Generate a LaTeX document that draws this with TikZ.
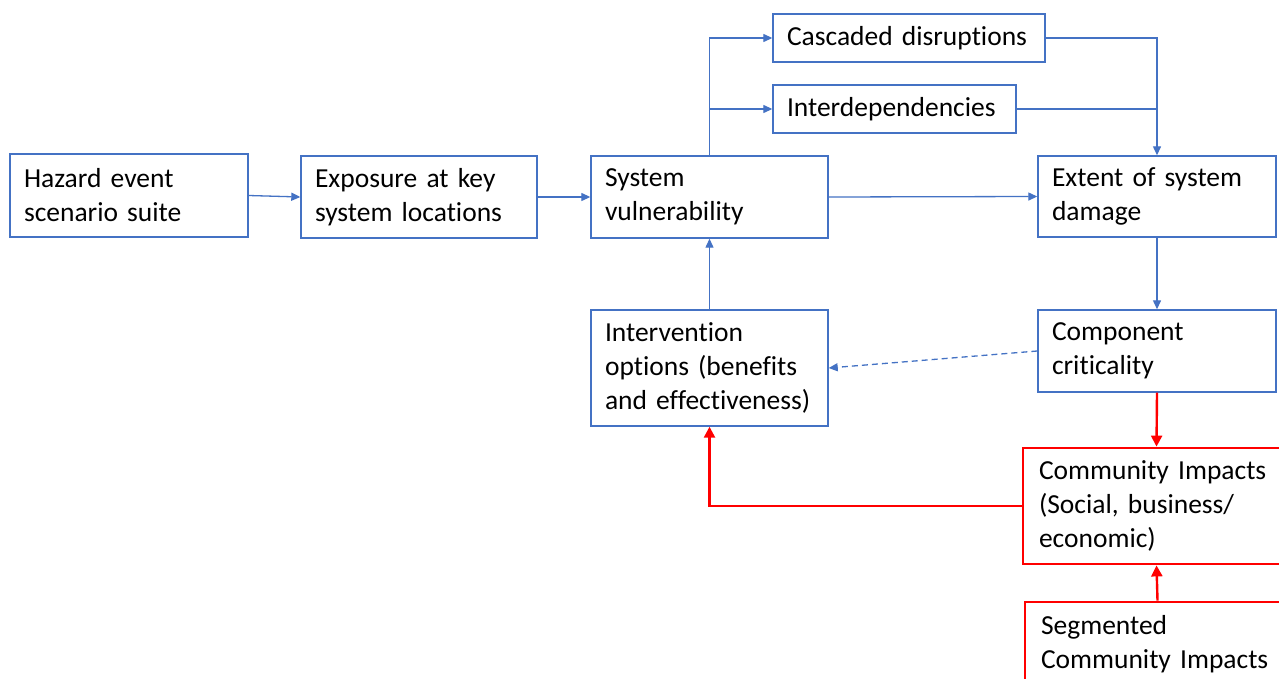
\documentclass[tikz,border=0pt]{standalone}
\usepackage{fontspec}
\setmainfont{Carlito}[Ligatures=NoCommon, WordSpace={0.8,0,0}]
\usetikzlibrary{arrows.meta}
\hyphenpenalty=10000
\definecolor{bl}{HTML}{4472C4}
\definecolor{rd}{HTML}{FF0000}
\tikzset{
  box/.style={draw=bl, line width=1.4pt, inner xsep=14pt, inner ysep=0pt, align=left,
    font=\fontsize{27.5}{34}\selectfont, text=black},
  rbox/.style={box, draw=rd, line width=2.8pt},
  arr/.style={draw=bl, line width=1.3pt, -{Triangle[length=9pt,width=8pt]}},
  ln/.style={draw=bl, line width=1.3pt},
  rarr/.style={draw=rd, line width=2.4pt, -{Triangle[length=11pt,width=11pt]}},
}
\begin{document}
\begin{tikzpicture}[x=1pt,y=-1pt]
\clip (0,0) rectangle (1279,679);
\fill[white] (0,0) rectangle (1279,679);
\node[box, minimum width=238pt, minimum height=83pt, text width=210pt] (haz) at (129,195.5) {\mbox{Hazard event}\\\mbox{scenario suite}};
\node[box, minimum width=236pt, minimum height=82pt, text width=208pt] (exp) at (419,197) {\mbox{Exposure at key}\\\mbox{system locations}};
\node[box, minimum width=237pt, minimum height=82pt, text width=209pt] (sys) at (709.5,197) {System\\vulnerability};
\node[box, minimum width=238pt, minimum height=81pt, text width=210pt] (ext) at (1157,196.5) {\mbox{Extent of system}\\damage};
\node[box, minimum width=272pt, minimum height=48pt, text width=244pt] (cas) at (909,38) {\mbox{Cascaded disruptions}};
\node[box, minimum width=243pt, minimum height=48pt, text width=215pt] (int) at (894.5,109) {\mbox{Interdependencies}};
\node[box, minimum width=237pt, minimum height=116pt, text width=209pt, inner xsep=14pt] (intv) at (709.5,368) {Intervention\\\mbox{options (benefits}\\\mbox{and effectiveness)}};
\node[box, minimum width=238pt, minimum height=82pt, text width=210pt] (comp) at (1157,351) {Component\\criticality};
\node[rbox, minimum width=267pt, minimum height=116pt, text width=235pt, inner xsep=16pt] (comm) at (1156.5,506) {\mbox{Community Impacts}\\\mbox{(Social, business/}\\economic)};
\node[rbox, minimum width=265pt, minimum height=84pt, text width=233pt, inner xsep=16pt] (seg) at (1157.5,644) {Segmented\\\mbox{Community Impacts}};
% connectors
\draw[arr] (haz.east) -- (exp.west);
\draw[arr] (exp.east) -- (sys.west);
\draw[arr] (sys.east) -- (ext.west);
\draw[arr] (sys.north) |- (cas.west);
\draw[arr] (sys.north |- int.west) -- (int.west);
\draw[arr] (cas.east) -| (ext.north);
\draw[ln] (int.east) -- (int.east -| ext.north);
\draw[arr] (ext.south) -- (comp.north);
\draw[arr] (intv.north) -- (sys.south);
\draw[arr, dash pattern=on 6pt off 4pt] (comp.west) -- (intv.east);
\draw[rarr] (comp.south) -- (comm.north);
\draw[rarr] (comm.west) -| (intv.south);
\draw[rarr] (seg.north) -- (comm.south);
\end{tikzpicture}
\end{document}
